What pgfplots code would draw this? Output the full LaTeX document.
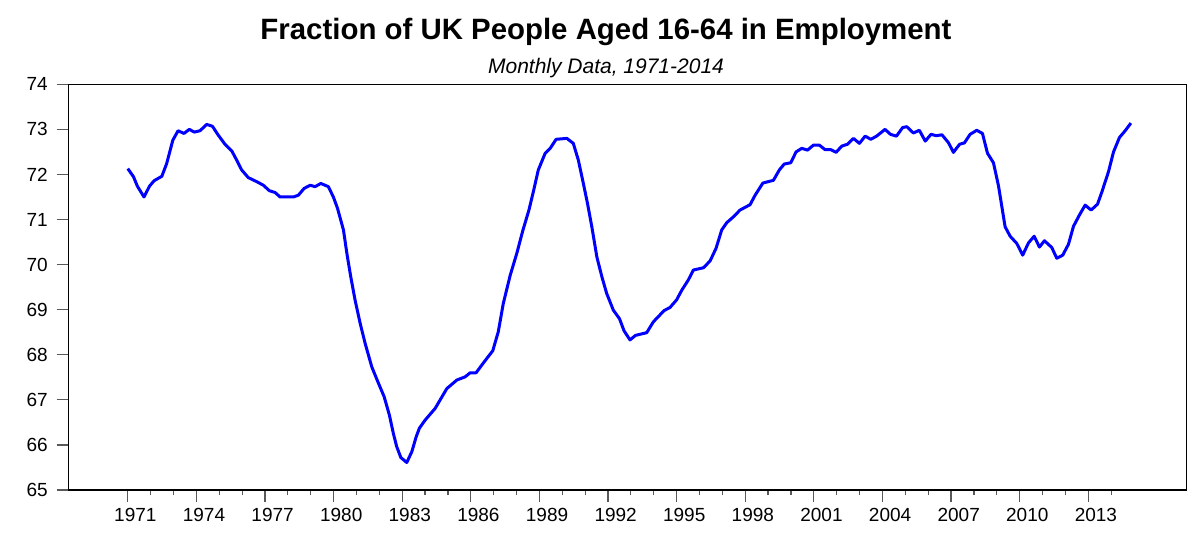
\documentclass[border=0pt]{standalone}
\usepackage{fontspec}
\setmainfont{Liberation Sans}
\usepackage{pgfplots}
\pgfplotsset{compat=1.18}
\begin{document}
\begin{tikzpicture}
\useasboundingbox (0,0) rectangle (600pt,273.5pt);
\node[anchor=base, inner sep=0pt, font=\fontsize{14.7}{17}\selectfont\bfseries] at (303pt,253.5pt) {Fraction of UK People Aged 16-64 in Employment};
\node[anchor=base, inner sep=0pt, font=\fontsize{10.5}{12}\selectfont\itshape] at (303pt,236.5pt) {Monthly Data, 1971-2014};
\begin{axis}[
  at={(34.15pt,28.5pt)}, anchor=south west,
  scale only axis, width=559.2pt, height=202.85pt,
  xmin=1968.4, xmax=2017.3, ymin=65, ymax=74,
  xtick={1971,1974,...,2013},
  minor xtick={1972,...,2014},
  ytick={65,...,74},
  tick align=outside,
  tick pos=left,
  major tick length=5.8pt,
  minor tick length=2.5pt,
  every tick/.style={black!65, line width=0.6pt},
  axis line style={line width=0.75pt},
  tick label style={font=\fontsize{9.5}{10}\selectfont},
  xticklabel style={xshift=3.8pt},
  yticklabel style={xshift=-1pt},
  /pgf/number format/assume math mode=true,
  /pgf/number format/1000 sep={},
  clip=false,
]
\addplot[color={rgb,255:red,0;green,0;blue,255}, line width=1.5pt, line join=round] coordinates {
(1971.00,72.13) (1971.25,71.95) (1971.42,71.74) (1971.71,71.50) (1971.95,71.74)
(1972.15,71.86) (1972.49,71.96) (1972.70,72.24) (1972.97,72.76) (1973.20,72.97)
(1973.46,72.91) (1973.69,73.00) (1973.91,72.94) (1974.16,72.97) (1974.45,73.11)
(1974.70,73.07) (1974.96,72.87) (1975.25,72.67) (1975.55,72.52) (1975.76,72.32)
(1975.98,72.10) (1976.27,71.93) (1976.64,71.84) (1976.93,71.76) (1977.19,71.64)
(1977.44,71.60) (1977.66,71.50) (1978.24,71.50) (1978.46,71.54) (1978.71,71.69)
(1978.97,71.76) (1979.19,71.73) (1979.44,71.80) (1979.77,71.73) (1979.99,71.50)
(1980.17,71.25) (1980.43,70.77) (1980.58,70.25) (1980.75,69.73) (1980.94,69.21)
(1981.16,68.70) (1981.38,68.25) (1981.67,67.73) (1981.96,67.37) (1982.21,67.07)
(1982.44,66.66) (1982.61,66.26) (1982.76,65.96) (1982.94,65.72) (1983.20,65.61)
(1983.42,65.85) (1983.61,66.18) (1983.75,66.37) (1984.00,66.55) (1984.44,66.81)
(1984.66,67.00) (1984.95,67.25) (1985.39,67.44) (1985.75,67.51) (1985.97,67.60)
(1986.23,67.60) (1986.55,67.82) (1986.96,68.09) (1987.20,68.51) (1987.42,69.14)
(1987.72,69.76) (1988.01,70.25) (1988.27,70.75) (1988.54,71.21) (1988.73,71.61)
(1988.95,72.10) (1989.25,72.47) (1989.47,72.58) (1989.73,72.78) (1990.20,72.80)
(1990.48,72.69) (1990.70,72.32) (1990.92,71.80) (1991.10,71.36) (1991.29,70.84)
(1991.51,70.17) (1991.73,69.73) (1991.94,69.36) (1992.23,68.99) (1992.50,68.80)
(1992.70,68.53) (1992.96,68.33) (1993.20,68.43) (1993.69,68.49) (1993.98,68.73)
(1994.45,68.98) (1994.71,69.05) (1995.00,69.22) (1995.22,69.43) (1995.51,69.66)
(1995.73,69.88) (1996.17,69.93) (1996.46,70.08) (1996.72,70.36) (1996.97,70.77)
(1997.19,70.93) (1997.48,71.06) (1997.77,71.21) (1998.21,71.33) (1998.43,71.54)
(1998.77,71.81) (1999.23,71.87) (1999.49,72.10) (1999.70,72.23) (1999.99,72.26)
(2000.22,72.50) (2000.47,72.58) (2000.72,72.54) (2000.98,72.65) (2001.24,72.65)
(2001.49,72.55) (2001.74,72.55) (2001.97,72.49) (2002.22,72.63) (2002.47,72.67)
(2002.73,72.80) (2002.99,72.69) (2003.24,72.85) (2003.49,72.78) (2003.74,72.85)
(2004.11,73.00) (2004.35,72.89) (2004.61,72.85) (2004.88,73.04) (2005.06,73.06)
(2005.35,72.92) (2005.61,72.98) (2005.87,72.74) (2006.12,72.89) (2006.35,72.86)
(2006.60,72.88) (2006.89,72.70) (2007.10,72.49) (2007.37,72.67) (2007.58,72.70)
(2007.83,72.89) (2008.12,72.98) (2008.37,72.91) (2008.59,72.47) (2008.85,72.26)
(2009.07,71.75) (2009.22,71.28) (2009.36,70.84) (2009.58,70.63) (2009.87,70.47)
(2010.13,70.21) (2010.38,70.48) (2010.63,70.63) (2010.86,70.39) (2011.08,70.53)
(2011.40,70.38) (2011.62,70.14) (2011.88,70.21) (2012.13,70.45) (2012.35,70.85)
(2012.61,71.10) (2012.86,71.32) (2013.12,71.21) (2013.40,71.34) (2013.59,71.61)
(2013.88,72.06) (2014.10,72.50) (2014.36,72.82) (2014.61,72.97) (2014.86,73.14)
};
\end{axis}
\end{tikzpicture}
\end{document}
